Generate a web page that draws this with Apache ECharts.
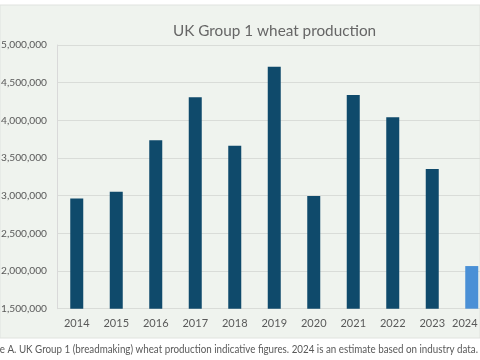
<!DOCTYPE html>
<html><head><meta charset="utf-8">
<script src="https://cdn.jsdelivr.net/npm/echarts@6/dist/echarts.min.js"></script>
<style>html,body{margin:0;padding:0;background:#fff;}#c{width:480px;height:360px;}</style>
</head><body><div id="c"></div>
<script>
const categories = ['2014','2015','2016','2017','2018','2019','2020','2021','2022','2023','2024 (e)'];
const production = [2962000, 3052000, 3737000, 4308000, 3662000, 4710000, 2997000, 4338000, 4042000, 3353000, 2066000];
const estimateIndex = 10;
const yTicks = { min: 1500000, max: 5000000, interval: 500000 };
const titleText = 'UK Group 1 wheat production';
const captionText = 'Figure A. UK Group 1 (breadmaking) wheat production indicative figures. 2024 is an estimate based on industry data.';

const font = 'Lato, Open Sans, sans-serif';
const capFont = '11px ' + font;
const ctx = document.createElement('canvas').getContext('2d');
ctx.font = capFont;
const fullW = ctx.measureText(captionText).width;
const prefW = ctx.measureText('Figur').width;
const s = 478 / (fullW - prefW);

const chart = echarts.init(document.getElementById('c'), null, {renderer:'canvas'});
chart.setOption({
  animation: false,
  backgroundColor: '#ffffff',
  graphic: [
    { type:'rect', z:-10, shape:{x:0,y:5,width:480,height:333}, style:{fill:'#eff3ee', stroke:'#e0e3df', lineWidth:1} },
    { type:'text', x: 478 - fullW * s, y: 344, scaleX: s, originX: 0, originY: 0,
      style:{text:captionText, fill:'#595959', font:capFont, textAlign:'left', textVerticalAlign:'top'} }
  ],
  title: { text: titleText, left: 168, top: 19,
    textStyle:{ color:'#666666', fontSize:15.3, fontWeight:'normal', fontFamily: font } },
  grid: { left: 57, top: 45, bottom: 51.3, right: -11.5, containLabel:false, outerBoundsMode:'none' },
  xAxis: { type:'category', data: categories,
    axisLine:{show:false}, axisTick:{show:false},
    axisLabel:{ color:'#595959', fontSize:11, fontFamily: font, margin:9, interval:0 } },
  yAxis: { type:'value', min: yTicks.min, max: yTicks.max, interval: yTicks.interval,
    axisLine:{show:true, lineStyle:{color:'#d9d9d9'}}, axisTick:{show:false},
    splitLine:{ lineStyle:{ color:'#d9dcd8', width:1 } },
    axisLabel:{ color:'#595959', fontSize:10.2, fontFamily: font, margin:10,
      formatter: v => v.toLocaleString('en-US') } },
  series: [{ type:'bar', barWidth:13,
    data: production.map((v,i) => ({ value:v, itemStyle:{ color: i===estimateIndex ? '#4a90d6' : '#0f4a6b' } })) }]
});
</script></body></html>
